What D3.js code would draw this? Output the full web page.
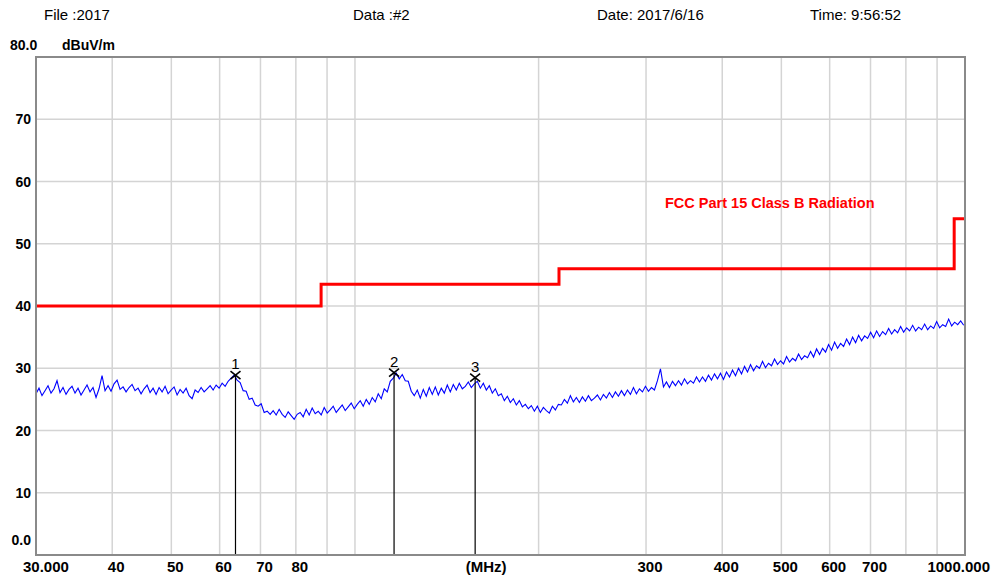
<!DOCTYPE html>
<html>
<head>
<meta charset="utf-8">
<script src="https://cdn.jsdelivr.net/npm/d3@7"></script>
<style>
  html, body { margin: 0; padding: 0; background: #fff; }
  svg { display: block; }
  text { font-family: "Liberation Sans", Arial, sans-serif; }
</style>
</head>
<body>
<svg id="chart" width="994" height="580"></svg>
<script>
// ---------------- DATA ----------------
const headerTexts = ["File :2017", "Data :#2", "Date: 2017/6/16", "Time: 9:56:52"];
const yTickValues = [10, 20, 30, 40, 50, 60, 70];
const yTopLabel = "80.0";
const yBottomLabel = "0.0";
const yUnit = "dBuV/m";
const xGridFreqs = [40, 50, 60, 70, 80, 90, 100, 200, 300, 400, 500, 600, 700, 800, 900];
const xTickFreqs = [40, 50, 60, 70, 80, 300, 400, 500, 600, 700];
const xStartLabel = "30.000";
const xEndLabel = "1000.000";
const xUnitLabel = "(MHz)";
const xUnitFreq = 158;

const limitName = "FCC Part 15 Class B Radiation";
const limitFreqs  = [30, 88, 88, 216, 216, 960, 960, 1000];
const limitLevels = [40, 40, 43.5, 43.5, 46, 46, 54, 54];

const markerLabels = ["1", "2", "3"];
const markerFreqs  = [63.7, 115.9, 157.4];
const markerLevels = [28.9, 29.3, 28.5];

// measured trace (dBuV/m), swept logarithmically from traceStartMHz to traceStopMHz
const traceStartMHz = 30;
const traceStopMHz = 995;
const traceLevels = [
  25.9, 26.8, 25.6, 26.4, 27.2, 26.0, 26.7, 28.0, 26.1, 26.9, 25.8, 26.6, 27.1, 26.0, 26.8, 25.7,
  26.5, 27.3, 26.2, 26.9, 25.3, 26.7, 28.8, 26.4, 27.2, 26.3, 27.5, 28.1, 26.6, 27.0, 26.2, 26.9,
  27.4, 26.4, 26.8, 25.9, 26.7, 27.3, 26.1, 26.8, 25.8, 26.9, 26.2, 27.1, 25.9, 26.5, 27.0, 25.7,
  26.6, 26.0, 26.8, 25.6, 25.1, 26.5, 26.1, 26.9, 26.2, 26.7, 27.2, 26.5, 27.3, 26.8, 27.6, 27.1,
  27.9, 28.4, 28.9, 28.1, 27.7, 26.4, 26.3, 25.0, 25.2, 24.1, 23.9, 24.3, 22.9, 23.1, 22.6,
  23.2, 22.5, 23.4, 22.6, 22.1, 23.0, 22.4, 21.8, 22.6, 22.9, 22.2, 23.4, 22.5, 23.6, 22.7, 23.1,
  22.5, 23.7, 22.8, 23.3, 23.9, 22.9, 23.5, 24.1, 23.2, 23.8, 24.4, 23.5, 24.2, 24.8, 23.9, 25.0,
  24.2, 25.3,
  24.6, 25.9, 25.1, 26.7, 26.2, 27.9, 28.4, 29.2, 28.3, 29.0, 28.0, 27.9, 26.3, 25.6, 26.5, 25.2,
  26.6, 25.5, 26.9, 25.8, 27.0, 25.7, 26.8, 26.0, 27.3, 26.2, 27.4, 26.5, 27.6, 26.7, 27.1, 27.8,
  26.9, 27.5, 27.9, 26.8, 27.6, 26.5, 27.2, 26.0, 26.7,
  25.6, 25.9, 24.8, 25.5, 24.5, 25.1, 24.1, 24.8, 23.8, 24.2, 23.5, 24.0, 23.1, 23.9, 22.9, 23.7,
  23.2, 22.8, 23.9, 23.3, 24.2,
  24.1, 25.0, 24.4, 25.6, 24.6, 25.3, 24.5, 25.4, 24.7, 25.6, 24.8, 25.2, 25.7, 24.9, 25.8, 25.2,
  26.1, 25.3, 26.2, 25.5, 26.4, 25.6, 26.5, 25.8, 26.9, 25.9, 26.7, 26.2, 27.1, 26.3, 26.9, 26.5,
  28.0, 29.9, 27.0, 27.8, 26.9, 27.9, 27.2, 28.0, 27.3, 28.3, 27.5, 28.0, 27.6, 28.6, 27.8, 28.6,
  27.9, 28.9, 28.1, 29.1, 28.3, 29.2,
  28.2, 29.4, 28.6, 29.7, 28.8, 30.0, 29.1, 30.3, 29.4, 30.6, 29.6, 30.4, 30.0, 31.1, 30.1, 30.8,
  30.4, 31.5, 30.6, 31.2, 30.7, 31.9, 31.0, 31.6, 31.2, 32.3, 31.4, 32.0, 31.7, 32.7, 31.8, 33.1,
  32.2, 33.2, 32.6, 33.8, 32.9, 34.2, 33.2, 34.0, 33.5, 34.7, 33.8, 35.0, 34.1, 35.3, 34.4, 35.2,
  34.8, 35.8, 34.9, 36.0, 35.1, 35.9, 35.4, 36.4, 35.5, 36.2, 35.7, 36.7, 35.8, 36.5, 36.0, 36.9,
  36.0, 36.6, 36.2, 37.1, 36.2, 36.8, 36.4, 37.5, 36.5, 37.0, 36.7, 37.9, 36.8, 37.4, 37.0, 37.6,
  36.9
];

// ---------------- CHART ----------------
const svg = d3.select("#chart");
const plot = { left: 36, right: 965, top: 57, bottom: 555 };

const x = d3.scaleLog().domain([30, 1000]).range([plot.left, plot.right]);
const y = d3.scaleLinear().domain([0, 80]).range([plot.bottom, plot.top]);

// header
const headerX = [44, 353, 597, 810];
svg.selectAll("text.header").data(headerTexts).enter().append("text")
  .attr("class", "header")
  .attr("x", (d, i) => headerX[i]).attr("y", 20)
  .attr("font-size", 15).attr("fill", "#000")
  .text(d => d);

// grid
const grid = svg.append("g");
grid.selectAll("line.v").data(xGridFreqs).enter().append("line")
  .attr("x1", d => x(d)).attr("x2", d => x(d))
  .attr("y1", plot.top).attr("y2", plot.bottom)
  .attr("stroke", "#d4d4d4").attr("stroke-width", 1.5);
grid.selectAll("line.h").data(yTickValues).enter().append("line")
  .attr("x1", plot.left).attr("x2", plot.right)
  .attr("y1", d => y(d)).attr("y2", d => y(d))
  .attr("stroke", "#d4d4d4").attr("stroke-width", 1.5);

// limit line
const limitData = limitFreqs.map((f, i) => [f, limitLevels[i]]);
svg.append("path").datum(limitData)
  .attr("fill", "none").attr("stroke", "#ff0000").attr("stroke-width", 3)
  .attr("d", d3.line().x(d => x(d[0])).y(d => y(d[1])));

svg.append("text").attr("x", 665).attr("y", 208)
  .attr("font-size", 14.5).attr("font-weight", "bold").attr("fill", "#ff0000")
  .text(limitName);

// trace
const n = traceLevels.length;
const traceData = traceLevels.map((v, i) => [traceStartMHz * Math.pow(traceStopMHz / traceStartMHz, i / (n - 1)), v]);
svg.append("path").datum(traceData)
  .attr("fill", "none").attr("stroke", "#0000ff").attr("stroke-width", 1.1)
  .attr("d", d3.line().x(d => x(d[0])).y(d => y(d[1])));

// markers
const mk = svg.append("g");
markerFreqs.forEach((f, i) => {
  const mx = x(f), my = y(markerLevels[i]);
  mk.append("line").attr("x1", mx).attr("x2", mx).attr("y1", my).attr("y2", plot.bottom)
    .attr("stroke", "#000").attr("stroke-width", 1.2);
  mk.append("line").attr("x1", mx - 5).attr("x2", mx + 5).attr("y1", my - 4).attr("y2", my + 4)
    .attr("stroke", "#000").attr("stroke-width", 1.6);
  mk.append("line").attr("x1", mx - 5).attr("x2", mx + 5).attr("y1", my + 4).attr("y2", my - 4)
    .attr("stroke", "#000").attr("stroke-width", 1.6);
  mk.append("text").attr("x", mx).attr("y", my - 6).attr("text-anchor", "middle")
    .attr("font-size", 15).attr("fill", "#000").text(markerLabels[i]);
});

// frame
svg.append("rect").attr("x", plot.left).attr("y", plot.top)
  .attr("width", plot.right - plot.left).attr("height", plot.bottom - plot.top)
  .attr("fill", "none").attr("stroke", "#8a8a8a").attr("stroke-width", 2);

// y labels
svg.selectAll("text.ylab").data(yTickValues).enter().append("text")
  .attr("x", 31).attr("y", d => y(d) + 5).attr("text-anchor", "end")
  .attr("font-size", 14).attr("font-weight", "bold").text(d => d);
svg.append("text").attr("x", 31).attr("y", 545).attr("text-anchor", "end")
  .attr("font-size", 14).attr("font-weight", "bold").text(yBottomLabel);
svg.append("text").attr("x", 10).attr("y", 50)
  .attr("font-size", 14).attr("font-weight", "bold").text(yTopLabel);
svg.append("text").attr("x", 62).attr("y", 50)
  .attr("font-size", 14).attr("font-weight", "bold").text(yUnit);

// x labels
svg.selectAll("text.xlab").data(xTickFreqs).enter().append("text")
  .attr("x", d => x(d) + 4).attr("y", 572).attr("text-anchor", "middle")
  .attr("font-size", 15).attr("font-weight", "bold").text(d => d);
svg.append("text").attr("x", 23).attr("y", 572)
  .attr("font-size", 15).attr("font-weight", "bold").text(xStartLabel);
svg.append("text").attr("x", 990).attr("y", 572).attr("text-anchor", "end")
  .attr("font-size", 15).attr("font-weight", "bold").text(xEndLabel);
svg.append("text").attr("x", x(xUnitFreq) + 10).attr("y", 572).attr("text-anchor", "middle")
  .attr("font-size", 15).attr("font-weight", "bold").text(xUnitLabel);
</script>
</body>
</html>
